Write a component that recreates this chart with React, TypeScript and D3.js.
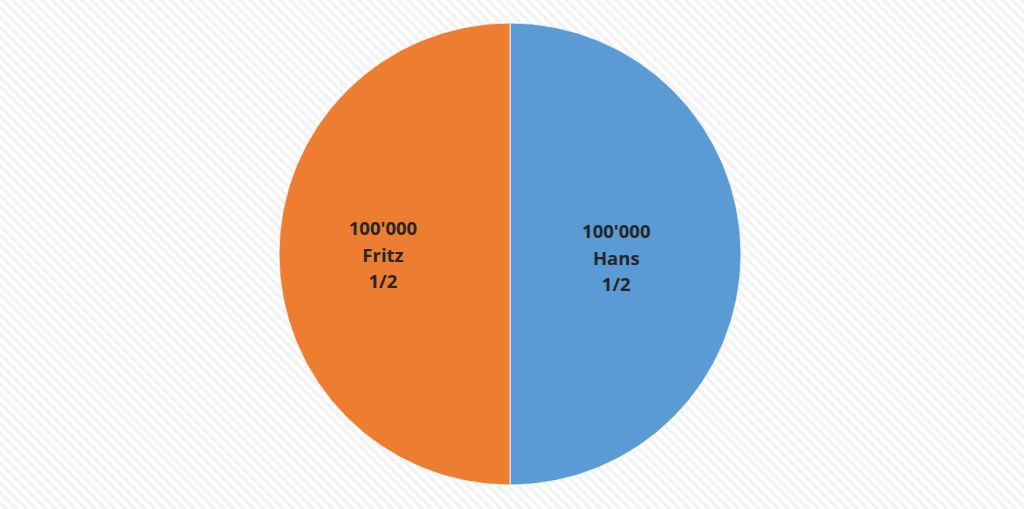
import React from "react";
import * as d3 from "d3";

const names = ["Hans", "Fritz"];
const values = [100000, 100000];
const fractions = ["1/2", "1/2"];
const colors = ["#5B9BD5", "#ED7D31"];
const labelRadiusFactor = [0.46, 0.55];
const labelYOffset = [6, 3];

const W = 1024;
const H = 509;

export default function App() {
  const cx = 510;
  const cy = 254;
  const r = 231;
  const pie = d3.pie<number>().sort(null).value((d) => d)(values);
  const arc = d3.arc<d3.PieArcDatum<number>>().innerRadius(0).outerRadius(r);
  const fmt = (v: number) => d3.format(",")(v).replace(/,/g, "'");
  return (
    <svg
      width={W}
      height={H}
      style={{ position: "absolute", left: 0, top: 0, display: "block" }}
    >
      <defs>
        <pattern
          id="stripes"
          width="7"
          height="7"
          patternUnits="userSpaceOnUse"
          patternTransform="rotate(-45)"
        >
          <rect width="7" height="7" fill="#ffffff" />
          <rect width="3.5" height="7" fill="#f2f2f2" />
        </pattern>
      </defs>
      <rect width={W} height={H} fill="url(#stripes)" />
      <g transform={`translate(${cx},${cy})`}>
        {pie.map((p, i) => (
          <path key={i} d={arc(p) || ""} fill={colors[i]} stroke="#ffffff" strokeWidth={0.75} />
        ))}
        {pie.map((p, i) => {
          const a = (p.startAngle + p.endAngle) / 2;
          const lr = r * labelRadiusFactor[i];
          const x = Math.sin(a) * lr;
          const y = -Math.cos(a) * lr + labelYOffset[i];
          return (
            <text
              key={"t" + i}
              x={x}
              y={y}
              textAnchor="middle"
              fontFamily="'Open Sans', 'Liberation Sans', sans-serif"
              fontWeight="bold"
              fontSize={18.5}
              fill="#262626"
            >
              <tspan x={x} dy={-22}>{fmt(values[i])}</tspan>
              <tspan x={x} dy={26.5}>{names[i]}</tspan>
              <tspan x={x} dy={26.5}>{fractions[i]}</tspan>
            </text>
          );
        })}
      </g>
    </svg>
  );
}
